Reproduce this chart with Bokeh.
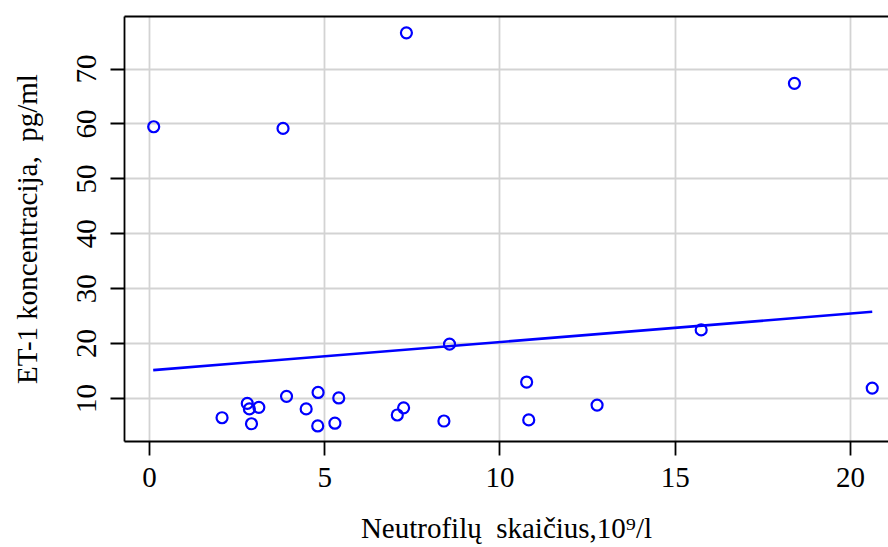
from bokeh.plotting import figure
from bokeh.models import FixedTicker, LinearAxis, Range1d
from bokeh.embed import file_html
from bokeh.resources import INLINE

# data
neutro = [0.12, 3.81, 7.33, 18.40, 8.56, 15.74, 10.76, 20.62, 12.77, 10.82, 8.40, 7.25,
          7.07, 5.40, 5.29, 4.81, 4.80, 4.47, 3.91, 3.12, 2.79, 2.85, 2.91, 2.07]
et1 = [59.5, 59.2, 76.6, 67.4, 19.9, 22.5, 13.0, 11.9, 8.8, 6.1, 5.9, 8.3,
       7.0, 10.1, 5.5, 11.1, 5.0, 8.1, 10.4, 8.4, 9.1, 8.1, 5.4, 6.5]
fit_x = [0.106, 20.62]
fit_y = [15.17, 25.79]
x_ticks = [0, 5, 10, 15, 20]
y_ticks = [10, 20, 30, 40, 50, 60, 70]

FONT = "Liberation Serif"
FS = "29px"

p = figure(width=888, height=547, output_backend="svg", toolbar_location=None,
           x_range=Range1d(-0.713, 21.084), y_range=Range1d(2.17, 79.58),
           min_border_left=124, min_border_right=0, min_border_top=16, min_border_bottom=106)
p.outline_line_color = None
p.background_fill_color = "white"

p.xgrid.ticker = FixedTicker(ticks=x_ticks)
p.ygrid.ticker = FixedTicker(ticks=y_ticks)
for g in (p.xgrid, p.ygrid):
    g.grid_line_color = "#d3d3d3"
    g.grid_line_width = 1.8

xa = p.xaxis[0]
xa.ticker = FixedTicker(ticks=x_ticks)
xa.axis_label = "Neutrofilų\u00a0 skaičius,10⁹/l"
ya = p.yaxis[0]
ya.ticker = FixedTicker(ticks=y_ticks)
ya.axis_label = "ET-1 koncentracija,\u00a0 pg/ml"
ya.major_label_orientation = "vertical"

for a in (xa, ya):
    a.axis_line_color = "black"
    a.axis_line_width = 1.8
    a.major_tick_line_color = "black"
    a.major_tick_line_width = 1.8
    a.major_tick_out = 14
    a.major_tick_in = 0
    a.minor_tick_line_color = None
    a.major_label_text_font = FONT
    a.major_label_text_font_size = FS
    a.major_label_text_color = "black"
    a.axis_label_text_font = FONT
    a.axis_label_text_font_size = FS
    a.axis_label_text_font_style = "normal"
    a.axis_label_text_color = "black"
xa.major_label_standoff = 12
xa.axis_label_standoff = 22
ya.major_label_standoff = 14
ya.axis_label_standoff = 32

top = LinearAxis(ticker=FixedTicker(ticks=[]), axis_line_color="black", axis_line_width=1.8,
                 major_tick_out=0, major_tick_in=0, minor_tick_line_color=None,
                 major_label_standoff=0, major_label_text_font_size="0px")
p.add_layout(top, "above")

p.line(fit_x, fit_y, line_color="#0000ff", line_width=2.6)
p.scatter(neutro, et1, marker="circle", size=11, fill_color=None,
          line_color="#0000ff", line_width=2.2)

open("out.html", "w").write(file_html(p, INLINE))
